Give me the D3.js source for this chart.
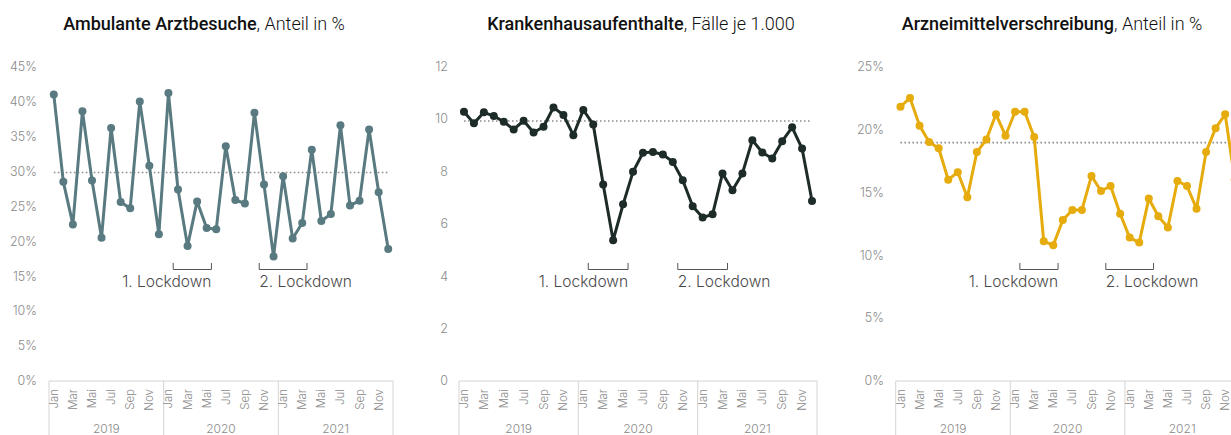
<!DOCTYPE html>
<html lang="de">
<head>
<meta charset="UTF-8" />
<title>Arztbesuche, Krankenhaus, Arzneimittel 2019-2021</title>
<script src="https://d3js.org/d3.v7.min.js"></script>
<style>
  body { margin: 0; background: #fff; font-family: Inter, Lato, sans-serif; overflow: hidden; }
  .tick-label { fill: #8a8a8a; font-size: 12.5px; font-weight: 300; }
  .month { fill: #8a8a8a; font-size: 11.5px; font-weight: 300; }
  .year { fill: #8a8a8a; font-size: 12px; font-weight: 300; }
  .frame { stroke: #d4d4d4; stroke-width: 1; fill: none; }
  .ref { stroke: #8c8c8c; stroke-width: 1.6; stroke-dasharray: 1.6 2.4; }
  .bracket { stroke: #555; stroke-width: 1; fill: none; }
  .lock-label { fill: #4a4a4a; font-size: 15.5px; font-weight: 300; }
  .title { fill: #111; font-size: 18px; font-family: Roboto, Inter, sans-serif; }
</style>
</head>
<body>
<svg width="1231" height="435"></svg>
<script>
const years = ["2019", "2020", "2021"];
const monthNames = ["Jan", "Feb", "Mar", "Apr", "Mai", "Jun", "Jul", "Aug", "Sep", "Okt", "Nov", "Dez"];
const shownMonths = ["Jan", "Mar", "Mai", "Jul", "Sep", "Nov"];

// Ambulante Arztbesuche, Anteil in %
const arztbesuche = [
  41.0, 28.5, 22.4, 38.6, 28.7, 20.5, 36.2, 25.6, 24.7, 40.0, 30.8, 21.0,
  41.2, 27.4, 19.3, 25.7, 21.9, 21.7, 33.6, 25.9, 25.4, 38.4, 28.1, 17.8,
  29.3, 20.4, 22.6, 33.1, 22.9, 23.9, 36.6, 25.1, 25.8, 36.0, 27.0, 18.9
];
// Krankenhausaufenthalte, Fälle je 1.000
const krankenhaus = [
  10.27, 9.83, 10.25, 10.11, 9.89, 9.60, 9.93, 9.48, 9.70, 10.44, 10.15, 9.38,
  10.34, 9.79, 7.50, 5.37, 6.74, 7.98, 8.71, 8.74, 8.64, 8.36, 7.66, 6.67,
  6.24, 6.36, 7.92, 7.28, 7.92, 9.19, 8.72, 8.49, 9.15, 9.68, 8.87, 6.87
];
// Arzneimittelverschreibung, Anteil in %
const arzneimittel = [
  21.8, 22.5, 20.3, 19.0, 18.5, 16.0, 16.6, 14.6, 18.2, 19.2, 21.2, 19.5,
  21.4, 21.4, 19.4, 11.1, 10.8, 12.8, 13.6, 13.6, 16.3, 15.1, 15.5, 13.3,
  11.4, 11.0, 14.5, 13.1, 12.2, 15.9, 15.5, 13.7, 18.2, 20.1, 21.2, 16.0
];

// month index ranges (inclusive) for the lockdown brackets
const lockdowns = [
  { label: "1. Lockdown", from: 13, to: 16, anchor: "end" },
  { label: "2. Lockdown", from: 22, to: 26, anchor: "start" }
];

const months = years.flatMap(y => monthNames.map(m => y + "-" + m));

const panels = [
  { bold: "Ambulante Arztbesuche", rest: ", Anteil in %", values: arztbesuche, color: "#587a80",
    max: 45, step: 5, pct: true, left: 49, right: 393, labelX: 37, titleX: 204 },
  { bold: "Krankenhausaufenthalte", rest: ", Fälle je 1.000", values: krankenhaus, color: "#1d2b29",
    max: 12, step: 2, pct: false, left: 459, right: 817, labelX: 448, titleX: 641 },
  { bold: "Arzneimittelverschreibung", rest: ", Anteil in %", values: arzneimittel, color: "#e6ab0c",
    max: 25, step: 5, pct: true, left: 895.7, right: 1239.5, labelX: 884, titleX: 1052 }
];

const svg = d3.select("svg");
const yBottom = 381, yTop = 66.5, axisBottom = 440;

panels.forEach(p => {
  const g = svg.append("g");
  const x = d3.scaleBand().domain(months).range([p.left, p.right]).paddingInner(0).paddingOuter(0);
  const cx = d => x(d) + x.bandwidth() / 2;
  const y = d3.scaleLinear().domain([0, p.max]).range([yBottom, yTop]);

  // title
  const t = g.append("text").attr("class", "title").attr("x", p.titleX).attr("y", 30)
    .attr("text-anchor", "middle");
  t.append("tspan").attr("font-weight", 500).text(p.bold);
  t.append("tspan").attr("font-weight", 300).text(p.rest);

  // y tick labels
  g.selectAll(".tick-label")
    .data(d3.range(0, p.max + 0.001, p.step))
    .join("text")
    .attr("class", "tick-label")
    .attr("x", p.labelX)
    .attr("y", d => y(d))
    .attr("dy", "0.35em")
    .attr("text-anchor", "end")
    .text(d => p.pct ? d + "%" : d);

  // x axis frame with year boxes
  g.append("line").attr("class", "frame")
    .attr("x1", p.left).attr("x2", p.right).attr("y1", yBottom).attr("y2", yBottom);
  const edges = years.map(yr => x(yr + "-Jan")).concat([p.right]);
  g.selectAll(".divider").data(edges).join("line")
    .attr("class", "frame divider")
    .attr("x1", d => d).attr("x2", d => d)
    .attr("y1", yBottom).attr("y2", axisBottom);

  // month labels
  g.selectAll(".month")
    .data(months.filter(m => shownMonths.includes(m.split("-")[1])))
    .join("text")
    .attr("class", "month")
    .attr("transform", d => `translate(${cx(d)},${yBottom + 8}) rotate(-90)`)
    .attr("text-anchor", "end")
    .attr("dy", "0.35em")
    .text(d => d.split("-")[1]);

  // year labels
  g.selectAll(".year")
    .data(years)
    .join("text")
    .attr("class", "year")
    .attr("x", d => x(d + "-Jan") + x.bandwidth() * 6)
    .attr("y", 433)
    .attr("text-anchor", "middle")
    .text(d => d);

  // 2019 average reference line
  const avg = d3.mean(p.values.slice(0, 12));
  g.append("line").attr("class", "ref")
    .attr("x1", cx(months[0])).attr("x2", cx(months[months.length - 1]))
    .attr("y1", y(avg)).attr("y2", y(avg));

  // lockdown brackets
  lockdowns.forEach(l => {
    const x0 = x(months[l.from]), x1 = x(months[l.to]) + x.bandwidth();
    g.append("path").attr("class", "bracket")
      .attr("d", `M${x0},263V269.5H${x1}V263`);
    g.append("text").attr("class", "lock-label")
      .attr("x", l.anchor === "end" ? x1 : x0)
      .attr("y", 287)
      .attr("text-anchor", l.anchor)
      .text(l.label);
  });

  // series
  const line = d3.line().x((d, i) => cx(months[i])).y(d => y(d));
  g.append("path")
    .datum(p.values)
    .attr("fill", "none")
    .attr("stroke", p.color)
    .attr("stroke-width", 3)
    .attr("stroke-linejoin", "round")
    .attr("d", line);
  g.selectAll(".dot")
    .data(p.values)
    .join("circle")
    .attr("class", "dot")
    .attr("cx", (d, i) => cx(months[i]))
    .attr("cy", d => y(d))
    .attr("r", 4)
    .attr("fill", p.color);
});
</script>
</body>
</html>
